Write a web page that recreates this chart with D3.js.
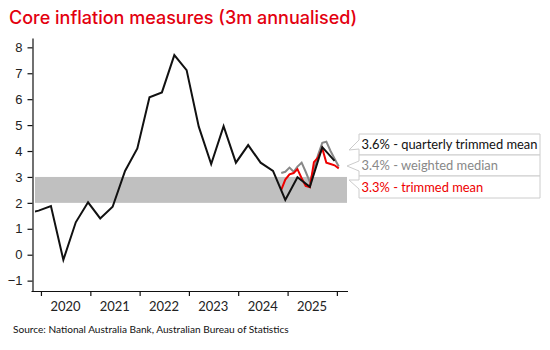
<!DOCTYPE html>
<html>
<head>
<meta charset="utf-8">
<script src="https://cdn.jsdelivr.net/npm/d3@7"></script>
<style>
  body { margin: 0; background: #fff; }
  svg { display: block; font-family: Lato, "Noto Sans", sans-serif; }
</style>
</head>
<body>
<svg class="chart"></svg>
<script>
// quarterly trimmed mean, 3m annualised (plotted mid last month of quarter)
const quarters = ['2019-09','2019-12','2020-03','2020-06','2020-09','2020-12','2021-03','2021-06',
  '2021-09','2021-12','2022-03','2022-06','2022-09','2022-12','2023-03','2023-06','2023-09',
  '2023-12','2024-03','2024-06','2024-09','2024-12','2025-03','2025-06','2025-09','2025-12'];
const quarterlyTrimmed = [1.6, 1.7, 1.88, -0.2, 1.25, 2.02, 1.4, 1.85, 3.23, 4.1, 6.07, 6.26, 7.7,
  7.12, 4.94, 3.5, 4.96, 3.55, 4.23, 3.55, 3.23, 2.11, 2.99, 2.62, 4.15, 3.62];

// monthly CPI measures, 3m annualised
const months = ['2024-11','2024-12','2025-01','2025-02','2025-03','2025-04','2025-05','2025-06',
  '2025-07','2025-08','2025-09','2025-10','2025-11','2025-12','2026-01'];
const trimmedMean = [2.5, 2.9, 3.1, 3.15, 3.3, 2.95, 2.65, 2.6, 3.57, 3.75, 4.1, 3.55, 3.5, 3.45, 3.33];
const weightedMedian = [3.15, 3.2, 3.36, 3.2, 3.4, 3.55, 3.2, 2.8, 3.3, 3.85, 4.32, 4.36, 4.0, 3.7, 3.4];

const years = [2020, 2021, 2022, 2023, 2024, 2025];
const yTicks = [-1, 0, 1, 2, 3, 4, 5, 6, 7, 8];
const targetBand = [2, 3];

const seriesNames = ['quarterly trimmed mean', 'weighted median', 'trimmed mean'];
const seriesColors = ['#111111', '#888888', '#ee0000'];

const svg = d3.select('.chart').attr('width', 550).attr('height', 350);

const parse = s => { const [y, m] = s.split('-').map(Number); return new Date(y, m - 1, 15); };

const xScale = d3.scaleTime()
  .domain([new Date(2019, 10, 18), new Date(2026, 2, 17)])
  .range([35, 347]);
const yScale = d3.scaleLinear()
  .domain([-1.4, 8.36])
  .range([291, 38]);

// title
svg.append('text')
  .attr('x', 9).attr('y', 23.5)
  .attr('fill', '#e3000f')
  .style('font-family', 'Inter, Roboto, sans-serif')
  .style('font-size', '18px')
  .style('font-weight', 500)
  .text('Core inflation measures (3m annualised)');

// target band
svg.append('rect')
  .attr('x', xScale.range()[0])
  .attr('width', xScale.range()[1] - xScale.range()[0])
  .attr('y', yScale(targetBand[1]))
  .attr('height', yScale(targetBand[0]) - yScale(targetBand[1]))
  .attr('fill', '#c0c0c0');

// clip
svg.append('clipPath').attr('id', 'plot')
  .append('rect')
  .attr('x', 35).attr('y', 30).attr('width', 320).attr('height', 262);

const line = d3.line().x(d => xScale(d[0])).y(d => yScale(d[1]));
const g = svg.append('g').attr('clip-path', 'url(#plot)');

const lines = [
  { dates: quarters.map(parse), values: quarterlyTrimmed, color: seriesColors[0] },
  { dates: months.map(parse), values: weightedMedian, color: seriesColors[1] },
  { dates: months.map(parse), values: trimmedMean, color: seriesColors[2] }
];
// grey first, then red, black on top
[lines[1], lines[2], lines[0]].forEach(s => {
  g.append('path')
    .datum(s.dates.map((d, i) => [d, s.values[i]]))
    .attr('d', line)
    .attr('fill', 'none')
    .attr('stroke', s.color)
    .attr('stroke-width', 2)
    .attr('stroke-linejoin', 'miter');
});

// y axis
const yAxisG = svg.append('g')
  .attr('transform', 'translate(32.5,0)')
  .call(d3.axisLeft(yScale).tickValues(yTicks).tickSize(5).tickSizeOuter(0).tickPadding(5));
yAxisG.selectAll('text').style('font-size', '13px').attr('fill', '#222');

// x axis
const xAxisG = svg.append('g')
  .attr('transform', 'translate(0,291)')
  .call(d3.axisBottom(xScale)
    .tickValues(years.concat([2026]).map(y => new Date(y, 0, 1)))
    .tickSize(5).tickSizeOuter(0).tickFormat(''));
xAxisG.select('.domain').attr('d', 'M31.5,0.5H348');

svg.append('g').selectAll('text')
  .data(years)
  .join('text')
  .attr('x', d => xScale(new Date(d, 6, 1)))
  .attr('y', 310.5)
  .attr('text-anchor', 'middle')
  .attr('fill', '#222')
  .style('font-size', '13px')
  .text(d => d);

svg.selectAll('.domain, .tick line').attr('stroke', '#111').attr('stroke-width', 1.2);

// end labels with callouts
const fmt = d3.format('.1f');
const boxes = [
  { top: 134, h: 21, tip: [349, 150], base: [140, 149], s: lines[0] },
  { top: 155, h: 21, tip: [347, 166], base: [161, 171], s: lines[1] },
  { top: 176, h: 22, tip: [349, 180], base: [180, 189], s: lines[2] }
];
const bx = 359, bw = 181;
boxes.forEach((b, i) => {
  const p = d3.path();
  p.moveTo(bx, b.top);
  p.lineTo(bx + bw, b.top);
  p.lineTo(bx + bw, b.top + b.h);
  p.lineTo(bx, b.top + b.h);
  p.lineTo(bx, b.base[1]);
  p.lineTo(b.tip[0], b.tip[1]);
  p.lineTo(bx, b.base[0]);
  p.closePath();
  svg.append('path')
    .attr('d', p.toString())
    .attr('fill', '#fff')
    .attr('stroke', '#cccccc')
    .attr('stroke-width', 1);
  const last = b.s.values[b.s.values.length - 1];
  svg.append('text')
    .attr('x', bx + 2.5)
    .attr('y', b.top + b.h / 2 + 4.8)
    .attr('fill', b.s.color)
    .style('font-size', '12.9px')
    .text(fmt(last) + '% - ' + seriesNames[i]);
});

// source
svg.append('text')
  .attr('x', 13).attr('y', 333)
  .attr('fill', '#111')
  .style('font-size', '10.1px')
  .text('Source: National Australia Bank, Australian Bureau of Statistics');
</script>
</body>
</html>
